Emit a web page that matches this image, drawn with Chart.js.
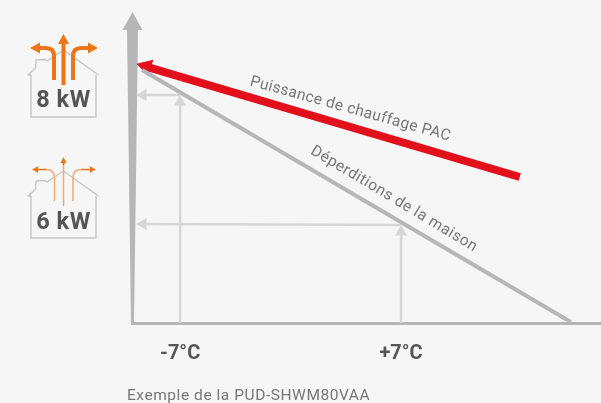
<!DOCTYPE html>
<html>
<head>
<meta charset="utf-8">
<style>
html,body{margin:0;padding:0;background:#f6f6f6;overflow:hidden}
canvas{display:block}
</style>
<script src="https://cdn.jsdelivr.net/npm/chart.js@4"></script>
</head>
<body>
<canvas id="c" width="601" height="403"></canvas>
<script>
// Outdoor temperature (°C) and power (kW)
const xTicks = [-7, 7];
const powerLevels = [8, 6];
const pacCurve = [{x: 14.52, y: 6.729}, {x: -9.16, y: 8.44}];
const lossCurve = [{x: 17.76, y: 4.481}, {x: -9.41, y: 8.388}];
const guideUpCold = [{x: -7, y: 4.465}, {x: -7, y: 7.89}];
const guideLeftCold = [{x: -7, y: 8}, {x: -9.35, y: 8}];
const guideUpMild = [{x: 7, y: 4.465}, {x: 7, y: 5.876}];
const guideLeftMild = [{x: 7, y: 5.985}, {x: -9.35, y: 6}];
const curveLabels = [
  {text: 'Puissance de chauffage PAC', x: 3.78, y: 7.78, angle: 15.5, spacing: '0.35px'},
  {text: 'Déperditions de la maison', x: 6.55, y: 6.385, angle: 31, spacing: '0.5px'}
];
const caption = 'Exemple de la PUD-SHWM80VAA';

const INK = '#555555', SOFT = '#777777', AXIS = '#b6b6b6', GUIDE = '#d6d6d6';
const ORANGE = '#ec7518', ORANGE_SOFT = '#f0a874', HOUSE = '#c6c6c6';

function arrowSet(data, color, width, radius, rotation) {
  return {data, borderColor: color, backgroundColor: color, borderWidth: width,
    showLine: true, pointStyle: 'triangle', pointBorderWidth: 0,
    pointRadius: [0, radius], pointHoverRadius: [0, radius],
    pointRotation: [0, rotation], clip: false, borderCapStyle: 'butt'};
}

function head(ctx, tipX, tipY, dx, dy, hw, color) {
  ctx.fillStyle = color;
  ctx.beginPath();
  ctx.moveTo(tipX, tipY);
  if (dx) { ctx.lineTo(tipX + dx, tipY - hw); ctx.lineTo(tipX + dx, tipY + hw); }
  else { ctx.lineTo(tipX - hw, tipY + dy); ctx.lineTo(tipX + hw, tipY + dy); }
  ctx.closePath();
  ctx.fill();
}

function house(ctx, o) {
  ctx.save();
  ctx.strokeStyle = HOUSE; ctx.lineWidth = 1.4; ctx.lineJoin = 'round';
  ctx.beginPath();
  ctx.moveTo(31, o + 75); ctx.lineTo(31, o + 117); ctx.lineTo(96, o + 117); ctx.lineTo(96, o + 75);
  ctx.moveTo(98.5, o + 75); ctx.lineTo(63.5, o + 50); ctx.lineTo(47, o + 61);
  ctx.lineTo(45, o + 59.5); ctx.lineTo(36, o + 60); ctx.lineTo(35.5, o + 68); ctx.lineTo(28, o + 75); ctx.lineTo(31, o + 75);
  ctx.stroke();
  ctx.restore();
}

const pictureParts = {
  id: 'pictureParts',
  beforeDatasetsDraw(chart) {
    const {ctx, scales: {x, y}} = chart;
    // tapered vertical axis
    const ax = x.left + 0.5, base = y.bottom, top = y.top;
    ctx.save();
    ctx.fillStyle = AXIS;
    ctx.beginPath();
    ctx.moveTo(ax, top);
    ctx.lineTo(ax + 10, top + 18); ctx.lineTo(ax + 5.5, top + 18);
    ctx.lineTo(ax + 1.5, base); ctx.lineTo(ax - 1.5, base);
    ctx.lineTo(ax - 5.5, top + 18); ctx.lineTo(ax - 10, top + 18);
    ctx.closePath();
    ctx.fill();
    ctx.restore();
  },
  afterDraw(chart) {
    const {ctx, scales: {x, y}} = chart;
    ctx.save();
    // Rotated curve labels
    ctx.fillStyle = SOFT;
    ctx.font = '15.5px Roboto';
    ctx.textAlign = 'center'; ctx.textBaseline = 'middle';
    curveLabels.forEach(l => {
      ctx.save();
      ctx.translate(x.getPixelForValue(l.x), y.getPixelForValue(l.y));
      ctx.rotate(l.angle * Math.PI / 180);
      ctx.letterSpacing = l.spacing;
      ctx.fillText(l.text, 0, 0);
      ctx.restore();
    });
    // Caption
    ctx.textAlign = 'left'; ctx.textBaseline = 'alphabetic';
    ctx.font = '15.5px Roboto';
    ctx.letterSpacing = '0.55px';
    ctx.fillText(caption, 127, 400);

    // House 8 kW
    house(ctx, 0);
    ctx.strokeStyle = ORANGE; ctx.lineWidth = 4; ctx.lineJoin = 'round';
    ctx.beginPath();
    ctx.moveTo(63.5, 85); ctx.lineTo(63.5, 42);
    ctx.moveTo(54, 80); ctx.lineTo(54, 56); ctx.quadraticCurveTo(54, 48, 46, 48); ctx.lineTo(39, 48);
    ctx.moveTo(73, 80); ctx.lineTo(73, 56); ctx.quadraticCurveTo(73, 48, 81, 48); ctx.lineTo(88, 48);
    ctx.stroke();
    head(ctx, 63.5, 34, 0, 10, 5.5, ORANGE);
    head(ctx, 30, 48, 10, 0, 5.5, ORANGE);
    head(ctx, 98, 48, -10, 0, 5.5, ORANGE);

    // House 6 kW
    house(ctx, 121);
    ctx.strokeStyle = ORANGE_SOFT; ctx.lineWidth = 1.5;
    ctx.beginPath();
    ctx.moveTo(63.5, 206); ctx.lineTo(63.5, 163);
    ctx.moveTo(54.5, 201); ctx.lineTo(54.5, 178); ctx.quadraticCurveTo(54.5, 169.5, 46, 169.5);
    ctx.moveTo(73, 201); ctx.lineTo(73, 178); ctx.quadraticCurveTo(73, 169.5, 81, 169.5);
    ctx.stroke();
    ctx.strokeStyle = ORANGE;
    ctx.beginPath();
    ctx.moveTo(46, 169.5); ctx.lineTo(38, 169.5);
    ctx.moveTo(81, 169.5); ctx.lineTo(90, 169.5);
    ctx.moveTo(63.5, 165); ctx.lineTo(63.5, 162);
    ctx.stroke();
    head(ctx, 63.5, 157, 0, 6, 3, ORANGE);
    head(ctx, 32, 169.5, 6, 0, 3.2, ORANGE);
    head(ctx, 96, 169.5, -6, 0, 3.2, ORANGE);

    // Power labels in the houses
    ctx.fillStyle = INK;
    ctx.font = 'bold 23.5px Roboto';
    ctx.letterSpacing = '0.5px';
    ctx.textAlign = 'center'; ctx.textBaseline = 'middle';
    ctx.fillText(powerLevels[0] + ' kW', 63.5, 101);
    ctx.fillText(powerLevels[1] + ' kW', 63.5, 223);
    ctx.restore();
  }
};

new Chart(document.getElementById('c'), {
  type: 'scatter',
  data: {datasets: [
    arrowSet(guideUpCold, GUIDE, 2.5, 7, 0),
    arrowSet(guideLeftCold, GUIDE, 2.5, 7, -90),
    arrowSet(guideUpMild, GUIDE, 2.5, 7, 0),
    arrowSet(guideLeftMild, GUIDE, 2.5, 7, -90),
    arrowSet(lossCurve, AXIS, 4, 0, 0),
    arrowSet(pacCurve, '#e30f1b', 8, 10, -73.4)
  ]},
  plugins: [pictureParts],
  options: {
    responsive: false, animation: false, events: [],
    layout: {padding: {left: 132, top: 12, right: 0, bottom: 0}, autoPadding: false},
    plugins: {legend: {display: false}, title: {display: false}, tooltip: {enabled: false}},
    scales: {
      x: {
        type: 'linear', min: -10.05, max: 19.67,
        afterBuildTicks(s) { s.ticks = xTicks.map(v => ({value: v})); },
        afterFit(s) { s.height = 80; s.paddingLeft = 0; s.paddingRight = 0; },
        grid: {display: false},
        border: {display: true, color: AXIS, width: 3},
        ticks: {
          padding: 11, color: INK, maxRotation: 0, autoSkip: false,
          font: {family: 'Roboto', size: 20, weight: 'bold'},
          callback: v => (v > 0 ? '+' : '') + v + '°C'
        }
      },
      y: {type: 'linear', display: false, min: 4.465, max: 9.287}
    }
  }
});
</script>
</body>
</html>
